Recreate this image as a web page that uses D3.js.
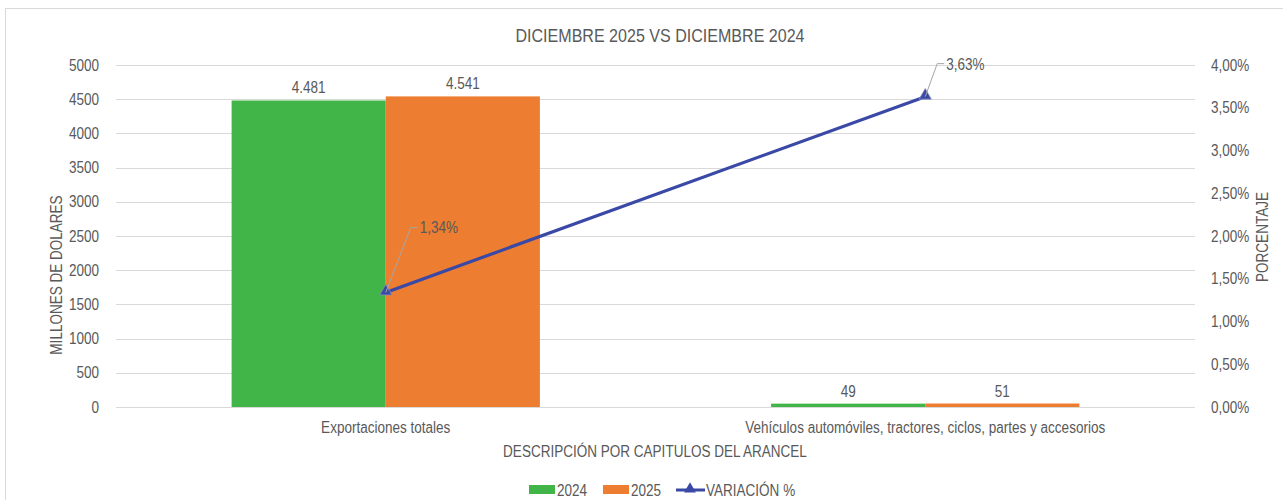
<!DOCTYPE html>
<meta charset="utf-8">
<script src="https://d3js.org/d3.v7.min.js"></script>
<style>
  body { margin: 0; background: #fff; }
  text { font-family: "Liberation Sans Narrow", "Arial Narrow", "Liberation Sans", Arial, sans-serif; fill: #595959; }
</style>
<body>
<div id="chart"></div>
<script>
    // data
    var categories = ["Exportaciones totales", "Vehículos automóviles, tractores, ciclos, partes y accesorios"]
    var years = ["2024", "2025"]
    var values2024 = [4481, 49]
    var values2025 = [4541, 51]
    var variacion = [1.34, 3.63]
    var leftTicks = [0, 500, 1000, 1500, 2000, 2500, 3000, 3500, 4000, 4500, 5000]
    var rightTicks = [0, 0.5, 1, 1.5, 2, 2.5, 3, 3.5, 4]
    var colors = ["#42b549", "#ed7d31"]
    var lineColor = "#3a48a6"

    var width = 1283, height = 500
    var margin = {left: 116, right: 88, top: 65, bottom: 93}

    var svg = d3.select("#chart").append("svg")
        .attr("width", width).attr("height", height)

    // outer frame
    svg.append("rect")
        .attr("x", 5.5).attr("y", 8.5)
        .attr("width", width + 20).attr("height", height + 20)
        .attr("fill", "none").attr("stroke", "#d9d9d9")

    var x0 = d3.scaleBand().domain(categories)
        .range([margin.left, width - margin.right])
    var x1 = d3.scaleBand().domain(years)
        .range([0, x0.bandwidth()]).paddingOuter(0.75)
    var y = d3.scaleLinear().domain([0, 5000]).range([height - margin.bottom, margin.top])
    var y2 = d3.scaleLinear().domain([0, 4]).range([height - margin.bottom, margin.top])

    // gridlines
    svg.append("g").selectAll("line").data(leftTicks).enter().append("line")
        .attr("x1", margin.left).attr("x2", width - margin.right)
        .attr("y1", d => Math.round(y(d)) + 0.5).attr("y2", d => Math.round(y(d)) + 0.5)
        .attr("stroke", "#d9d9d9")

    // left axis
    var yAxis = svg.append("g")
        .attr("transform", "translate(" + (margin.left - 14) + ",0)")
        .call(d3.axisLeft(y).tickValues(leftTicks).tickSize(0).tickFormat(d3.format("d")))
    yAxis.select(".domain").remove()
    yAxis.selectAll("text").style("font-size", "16px").attr("fill", "#595959")

    // right axis
    var pct = d => d.toFixed(2).replace(".", ",") + "%"
    var yAxis2 = svg.append("g")
        .attr("transform", "translate(" + (width - margin.right + 13) + ",0)")
        .call(d3.axisRight(y2).tickValues(rightTicks).tickSize(0).tickFormat(pct))
    yAxis2.select(".domain").remove()
    yAxis2.selectAll("text").style("font-size", "16px").attr("fill", "#595959")

    // bars
    var series = [values2024, values2025]
    var groups = svg.append("g").selectAll("g").data(categories).enter().append("g")
        .attr("transform", d => "translate(" + x0(d) + ",0)")
    var fmt = d3.formatLocale({decimal: ",", thousands: ".", grouping: [3], currency: ["$", ""]}).format(",d")
    groups.each(function(c, i) {
        var g = d3.select(this)
        years.forEach(function(yr, j) {
            var v = series[j][i]
            g.append("rect")
                .attr("x", x1(yr)).attr("width", x1.bandwidth())
                .attr("y", y(v)).attr("height", y(0) - y(v))
                .attr("fill", colors[j])
            g.append("text")
                .attr("x", x1(yr) + x1.bandwidth() / 2)
                .attr("y", y(v) - 7)
                .attr("text-anchor", "middle")
                .style("font-size", "16px")
                .text(fmt(v))
        })
    })

    // variation line
    var cx = d => x0(d) + x0.bandwidth() / 2
    var pts = categories.map((c, i) => [cx(c), y2(variacion[i])])
    svg.append("path")
        .attr("d", d3.line()(pts))
        .attr("fill", "none").attr("stroke", lineColor).attr("stroke-width", 3.2)

    svg.append("g").selectAll("path").data(pts).enter().append("path")
        .attr("d", d3.symbol().type(d3.symbolTriangle).size(64))
        .attr("transform", d => "translate(" + d[0] + "," + (d[1] - 1) + ")")
        .attr("fill", lineColor).attr("stroke", "#8a8fb8").attr("stroke-width", 0.8)

    // labels with leader lines
    var offs = [[25, -65], [12, -33]]
    pts.forEach(function(p, i) {
        var ex = p[0] + offs[i][0], ey = p[1] + offs[i][1]
        svg.append("polyline")
            .attr("points", [p[0], p[1], ex, ey, ex + 7, ey].join(" "))
            .attr("fill", "none").attr("stroke", "#a6a6a6").attr("stroke-width", 1)
        svg.append("text")
            .attr("x", ex + 9).attr("y", ey + 6)
            .style("font-size", "16px")
            .text(pct(variacion[i]))
    })

    // category labels
    svg.append("g").selectAll("text").data(categories).enter().append("text")
        .attr("x", d => cx(d)).attr("y", 433)
        .attr("text-anchor", "middle")
        .style("font-size", "16px")
        .text(d => d)

    // titles
    svg.append("text")
        .attr("x", 660).attr("y", 42)
        .attr("text-anchor", "middle")
        .style("font-size", "19px")
        .text("DICIEMBRE 2025 VS DICIEMBRE 2024")

    svg.append("text")
        .attr("x", 655).attr("y", 457)
        .attr("text-anchor", "middle")
        .style("font-size", "16px")
        .text("DESCRIPCIÓN POR CAPITULOS DEL ARANCEL")

    svg.append("text")
        .attr("transform", "translate(62,275) rotate(-90)")
        .attr("text-anchor", "middle")
        .style("font-size", "16px")
        .text("MILLONES DE DOLARES")

    svg.append("text")
        .attr("transform", "translate(1268,237) rotate(-90)")
        .attr("text-anchor", "middle")
        .style("font-size", "16px")
        .text("PORCENTAJE")

    // legend
    var legend = svg.append("g")
    years.forEach(function(yr, j) {
        var lx = 529 + j * 74
        legend.append("rect").attr("x", lx).attr("y", 485).attr("width", 26).attr("height", 9).attr("fill", colors[j])
        legend.append("text").attr("x", lx + 28).attr("y", 496).style("font-size", "16px").text(yr)
    })
    legend.append("line").attr("x1", 676).attr("x2", 705).attr("y1", 490).attr("y2", 490)
        .attr("stroke", lineColor).attr("stroke-width", 3)
    legend.append("path").attr("d", d3.symbol().type(d3.symbolTriangle).size(60))
        .attr("transform", "translate(690,489)").attr("fill", lineColor)
    legend.append("text").attr("x", 706).attr("y", 496).style("font-size", "16px").text("VARIACIÓN %")

    // no narrow font installed: squeeze the regular face to a narrow width
    svg.selectAll("text").each(function() {
        var len = this.getComputedTextLength()
        d3.select(this).attr("textLength", len * 0.845).attr("lengthAdjust", "spacingAndGlyphs")
    })
</script>
</body>
